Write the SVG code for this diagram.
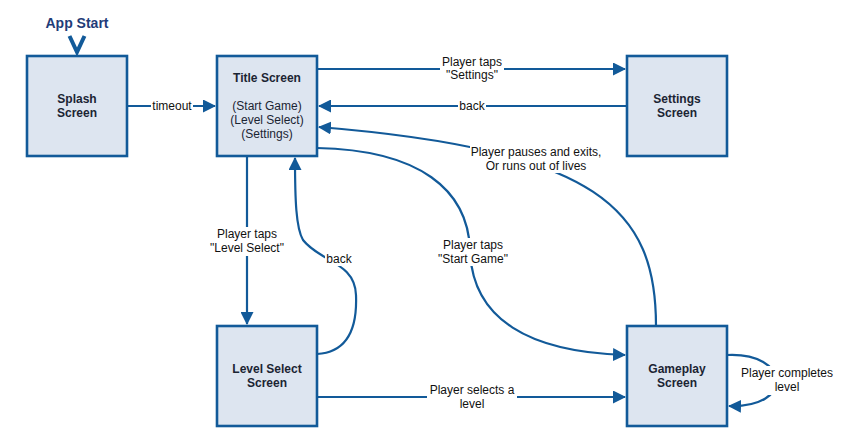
<svg xmlns="http://www.w3.org/2000/svg" width="862" height="448" viewBox="0 0 862 448">
<style>
.box{fill:#dde5f0;stroke:#125a99;stroke-width:2.6}
.bt{font-family:"Liberation Sans",Arial,sans-serif;font-size:12px;font-weight:bold;fill:#1b2433;text-anchor:middle}
.st{font-family:"Liberation Sans",Arial,sans-serif;font-size:12px;fill:#1b2433;text-anchor:middle}
.ln{fill:none;stroke:#125a99;stroke-width:2.2}
.bg{fill:#fff}
.lb{font-family:"Liberation Sans",Arial,sans-serif;font-size:12px;fill:#111;text-anchor:middle}
</style>
<defs>
<marker id="ah" markerUnits="userSpaceOnUse" markerWidth="13" markerHeight="13" refX="12" refY="6.5" orient="auto">
<path d="M0,0 L13,6.5 L0,13 z" fill="#125a99"/>
</marker>
</defs>
<rect width="862" height="448" fill="#fff"/>
<g id="app-start">
<text x="77" y="28" font-family="Liberation Sans,Arial,sans-serif" font-size="14" font-weight="bold" fill="#1f3c78" text-anchor="middle">App Start</text>
<polyline points="69.5,36 77,52 84.5,36" fill="none" stroke="#125a99" stroke-width="4"/>
</g>
<g id="connectors">
<path class="ln" d="M127,106 L215,106" marker-end="url(#ah)"/>
<path class="ln" d="M317,69 L625,69" marker-end="url(#ah)"/>
<path class="ln" d="M627,106 L319,106" marker-end="url(#ah)"/>
<path class="ln" d="M656,326 C656,210 600,150 319,127" marker-end="url(#ah)"/>
<path class="ln" d="M317,148 C420,150 468,190 470,250 C472,320 530,352 625,355" marker-end="url(#ah)"/>
<path class="ln" d="M247,156 L247,324" marker-end="url(#ah)"/>
<path class="ln" d="M317,354 C352,352 357,320 356,295 C355,262 320,262 303,240 C296,228 295,200 295,158" marker-end="url(#ah)"/>
<path class="ln" d="M317,397 L625,397" marker-end="url(#ah)"/>
<path class="ln" d="M727,355 C790,352 795,408 729,406" marker-end="url(#ah)"/>
<rect class="bg" x="151" y="99" width="42" height="14"/>
<text class="lb" x="172" y="110">timeout</text>
<rect class="bg" x="440" y="57" width="64" height="25"/>
<text class="lb" x="472" y="66">Player taps</text>
<text class="lb" x="472" y="79">"Settings"</text>
<rect class="bg" x="458" y="99" width="28" height="14"/>
<text class="lb" x="472" y="110">back</text>
<rect class="bg" x="470" y="144" width="132" height="15"/>
<rect class="bg" x="482" y="159" width="108" height="14"/>
<text class="lb" x="536" y="156">Player pauses and exits,</text>
<text class="lb" x="536" y="170">Or runs out of lives</text>
<rect class="bg" x="439" y="238" width="68" height="28"/>
<text class="lb" x="473" y="249">Player taps</text>
<text class="lb" x="473" y="263">"Start Game"</text>
<rect class="bg" x="210" y="227" width="74" height="29"/>
<text class="lb" x="247" y="238">Player taps</text>
<text class="lb" x="247" y="252">"Level Select"</text>
<rect class="bg" x="325" y="252" width="28" height="14"/>
<text class="lb" x="339" y="263">back</text>
<rect class="bg" x="427" y="383" width="90" height="28"/>
<text class="lb" x="472" y="394">Player selects a</text>
<text class="lb" x="472" y="408">level</text>
<rect class="bg" x="740" y="366" width="94" height="29"/>
<text class="lb" x="787" y="377">Player completes</text>
<text class="lb" x="787" y="391">level</text>
</g>
<g id="splash">
<rect class="box" x="27" y="56" width="100" height="100"/>
<text class="bt" x="77" y="103">Splash</text>
<text class="bt" x="77" y="117">Screen</text>
</g>
<g id="title">
<rect class="box" x="217" y="56" width="100" height="100"/>
<text class="bt" x="267" y="82">Title Screen</text>
<text class="st" x="267" y="110">(Start Game)</text>
<text class="st" x="267" y="124">(Level Select)</text>
<text class="st" x="267" y="138">(Settings)</text>
</g>
<g id="settings">
<rect class="box" x="627" y="56" width="100" height="100"/>
<text class="bt" x="677" y="103">Settings</text>
<text class="bt" x="677" y="117">Screen</text>
</g>
<g id="level-select">
<rect class="box" x="217" y="326" width="100" height="100"/>
<text class="bt" x="267" y="373">Level Select</text>
<text class="bt" x="267" y="387">Screen</text>
</g>
<g id="gameplay">
<rect class="box" x="627" y="326" width="100" height="100"/>
<text class="bt" x="677" y="373">Gameplay</text>
<text class="bt" x="677" y="387">Screen</text>
</g>
</svg>
